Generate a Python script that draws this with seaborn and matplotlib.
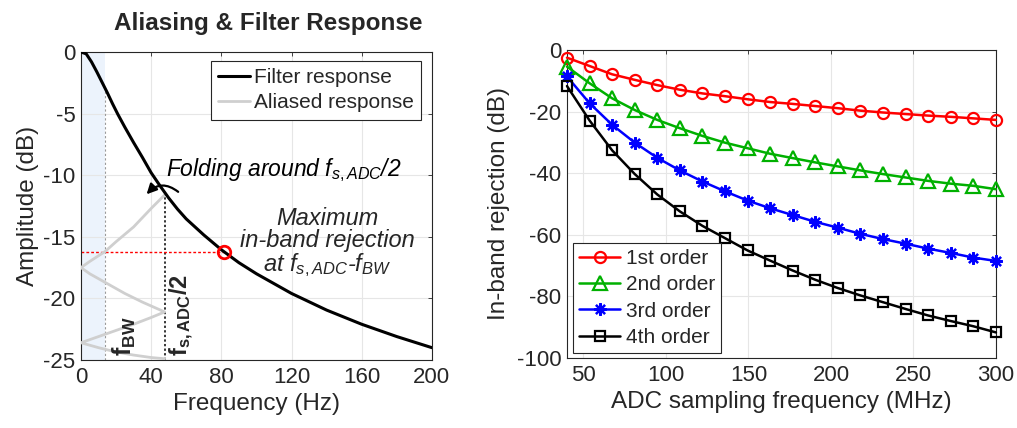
import matplotlib
matplotlib.use("Agg")
import matplotlib.pyplot as plt
import seaborn as sns
import pandas as pd

# ---------------- data: left panel (filter + aliasing) ----------------
filter_freq = [0, 3, 6, 9, 12, 15, 18, 21, 25, 30, 35, 40, 45, 50, 55, 60,
               70, 80, 90, 100, 120, 140, 160, 180, 200]
filter_db = [0, -0.15, -0.8, -1.6, -2.45, -3.3, -4.2, -5.05, -6.1, -7.35,
             -8.55, -9.8, -10.85, -11.85, -12.75, -13.55, -14.85, -16.05,
             -17.1, -18.0, -19.6, -20.95, -22.1, -23.1, -24.0]

# aliased copies folded into 0 .. fs/2 (zig-zag path)
alias_freq = [47.7, 40, 30, 20, 13.7, 5, 0,
              5, 15, 25, 35, 47.7,
              40, 30, 20, 10, 0,
              10, 20, 30, 40, 47.7]
alias_db = [-11.6, -12.7, -14.2, -15.4, -16.2, -17.0, -17.5,
            -18.0, -18.8, -19.6, -20.3, -21.1,
            -21.55, -22.1, -22.6, -23.1, -23.6,
            -24.0, -24.35, -24.6, -24.8, -24.9]

f_bw = 13.7
fs_half = 47.7
max_rej_freq = 81.4
max_rej_db = -16.2
filter_at_bw = -2.9
alias_peak_db = -11.6

# ---------------- data: right panel (in-band rejection) ----------------
adc_fs = [40, 53.7, 67.4, 81.1, 94.7, 108.4, 122.1, 135.8, 149.5, 163.2,
          176.8, 190.5, 204.2, 217.9, 231.6, 245.3, 258.9, 272.6, 286.3, 300]
rej_1st = [-2.5, -5.2, -7.9, -9.7, -11.4, -12.9, -14.1, -15.0, -16.0, -16.9,
           -17.5, -18.2, -18.9, -19.7, -20.3, -20.8, -21.3, -21.7, -22.2, -22.7]
rej_2nd = [-5.4, -10.8, -15.7, -19.5, -22.7, -25.4, -27.9, -30.1, -31.9, -33.7,
           -35.1, -36.5, -37.8, -39.1, -40.3, -41.4, -42.5, -43.4, -44.1, -45.2]
rej_3rd = [-8.6, -17.3, -24.3, -30.1, -35.0, -39.1, -42.7, -45.9, -48.9, -51.4,
           -53.6, -55.8, -57.7, -59.7, -61.4, -62.9, -64.5, -65.9, -67.4, -68.5]
rej_4th = [-11.7, -22.9, -32.6, -40.3, -46.9, -52.4, -57.1, -61.1, -65.1, -68.4,
           -71.6, -74.6, -77.3, -79.7, -81.9, -84.1, -86.2, -88.0, -89.7, -91.7]
order_labels = ["1st order", "2nd order", "3rd order", "4th order"]

# ---------------- style ----------------
sns.set_theme(style="white")
plt.rcParams["font.family"] = ["Liberation Sans", "DejaVu Sans"]
plt.rcParams["mathtext.fontset"] = "custom"
plt.rcParams["mathtext.rm"] = "Liberation Sans"
plt.rcParams["mathtext.it"] = "Liberation Sans:italic"
plt.rcParams["mathtext.bf"] = "Liberation Sans:bold"
plt.rcParams["axes.unicode_minus"] = False

TXT = "#262626"
TICK_FS = 16
LABEL_FS = 17.5
LEG_FS = 15

fig = plt.figure(figsize=(10.17, 4.28), dpi=100)
ax1 = fig.add_axes([0.0796, 0.1589, 0.3451, 0.7196])
ax2 = fig.add_axes([0.5575, 0.1636, 0.4218, 0.7196])


def style_axes(ax):
    ax.grid(True, color="#e6e6e6", lw=0.8)
    ax.set_axisbelow(True)
    for s in ax.spines.values():
        s.set_color(TXT)
        s.set_linewidth(0.8)
    ax.tick_params(direction="in", length=3, width=0.6, colors=TXT,
                   labelsize=TICK_FS, top=True, right=True,
                   labelcolor=TXT)
    ax.tick_params(axis="y", pad=4)
    ax.tick_params(axis="x", pad=5)


# ---------------- left panel ----------------
ax1.axvspan(0, f_bw, color="#ecf3fc", zorder=0, lw=0)
sns.lineplot(x=filter_freq, y=filter_db, ax=ax1, color="black", lw=2.2,
             label="Filter response", zorder=4)
sns.lineplot(x=alias_freq, y=alias_db, ax=ax1, color="#cfcfcf", lw=2.0,
             sort=False, estimator=None, label="Aliased response", zorder=3)

ax1.plot([f_bw, f_bw], [-25, filter_at_bw], color="#9a9a9a", lw=0.8,
         ls=(0, (2, 2)), zorder=2)
ax1.plot([fs_half, fs_half], [-25, alias_peak_db], color="black", lw=1.1,
         ls=(0, (1.5, 1.5)), zorder=2)
ax1.plot([0, max_rej_freq], [max_rej_db, max_rej_db], color="red", lw=1.0,
         ls=(0, (2, 1.5)), zorder=2)
ax1.plot([max_rej_freq], [max_rej_db], marker="o", ms=9, mfc="none",
         mec="red", mew=2.0, zorder=6)

ax1.annotate("", xy=(37.4, -11.55), xytext=(55.4, -11.35),
             arrowprops=dict(arrowstyle="-|>", lw=1.6, color="black",
                             mutation_scale=15,
                             connectionstyle="arc3,rad=0.45",
                             shrinkA=0, shrinkB=0), zorder=7)

ax1.text(48.5, -10.1, r"Folding around $f_{s,ADC}$/2", fontsize=16.5,
         style="italic", ha="left", va="baseline", color="black")
ax1.text(140.5, -17.8,
         "Maximum\nin-band rejection\n" + r"at $f_{s,ADC}$-$f_{BW}$",
         fontsize=17, style="italic", ha="center", va="baseline",
         multialignment="center", linespacing=0.95)

ax1.text(29.0, -24.7, r"$\mathbf{f}_{\mathbf{BW}}$", fontsize=18,
         rotation=90, rotation_mode="anchor", ha="left", va="baseline")
ax1.text(60.5, -24.7, r"$\mathbf{f}_{\mathbf{s,ADC}}$/2", fontsize=17,
         fontweight="bold", rotation=90, rotation_mode="anchor",
         ha="left", va="baseline")

ax1.set_xlim(0, 200)
ax1.set_ylim(-25, 0)
ax1.set_xticks([0, 40, 80, 120, 160, 200])
ax1.set_yticks([0, -5, -10, -15, -20, -25])
ax1.set_xlabel("Frequency (Hz)", fontsize=LABEL_FS, color=TXT, labelpad=4)
ax1.set_ylabel("Amplitude (dB)", fontsize=LABEL_FS, color=TXT, labelpad=3)
style_axes(ax1)

leg1 = ax1.legend(loc="upper right", bbox_to_anchor=(0.969, 0.971),
                  borderaxespad=0, fontsize=LEG_FS, frameon=True,
                  fancybox=False, framealpha=1, edgecolor=TXT,
                  handlelength=1.5, handletextpad=0.2, labelspacing=0.3,
                  borderpad=0.35)
leg1.get_frame().set_linewidth(0.8)

fig.text(268 / 1017, (428 - 30) / 428, "Aliasing & Filter Response",
         fontsize=17.5, fontweight="bold", ha="center", va="baseline",
         color=TXT)

# ---------------- right panel ----------------
series = pd.DataFrame({
    "fs": adc_fs * 4,
    "rej": rej_1st + rej_2nd + rej_3rd + rej_4th,
    "order": sum([[lab] * len(adc_fs) for lab in order_labels], []),
})
styles = {
    "1st order": dict(color="#ff0000", marker="o", ms=8),
    "2nd order": dict(color="#00b000", marker="^", ms=10),
    "3rd order": dict(color="#0000ff", marker=(8, 2, 0), ms=9),
    "4th order": dict(color="#000000", marker="s", ms=7.5),
}
for lab in order_labels:
    st = styles[lab]
    sub = series[series["order"] == lab]
    sns.lineplot(data=sub, x="fs", y="rej", ax=ax2, color=st["color"],
                 lw=1.8, marker=st["marker"], ms=st["ms"],
                 mfc="none", mec=st["color"], mew=1.6, label=lab,
                 clip_on=False, zorder=3)

ax2.set_xlim(40, 300)
ax2.set_ylim(-100, 0)
ax2.set_xticks([50, 100, 150, 200, 250, 300])
ax2.set_yticks([0, -20, -40, -60, -80, -100])
ax2.set_xlabel("ADC sampling frequency (MHz)", fontsize=LABEL_FS,
               color=TXT, labelpad=4)
ax2.set_ylabel("In-band rejection (dB)", fontsize=LABEL_FS, color=TXT,
               labelpad=5)
style_axes(ax2)

leg2 = ax2.legend(loc="lower left", bbox_to_anchor=(0.013, 0.016),
                  borderaxespad=0, fontsize=LEG_FS, frameon=True,
                  fancybox=False, framealpha=1, edgecolor=TXT,
                  handlelength=2.0, handletextpad=0.25, labelspacing=0.35,
                  borderpad=0.3)
leg2.get_frame().set_linewidth(0.8)
leg2.set_zorder(5)

fig.savefig("out.png", dpi=100)
